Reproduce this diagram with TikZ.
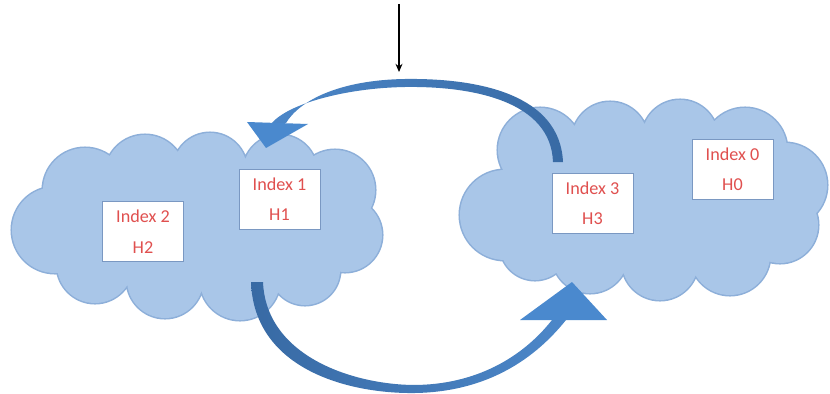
\documentclass[tikz,border=0pt]{standalone}
\usepackage{fontspec}
\setmainfont{Carlito}
\usetikzlibrary{arrows.meta}
\definecolor{cloudfill}{HTML}{A9C6E8}
\definecolor{cloudline}{HTML}{8DAFD9}
\definecolor{boxline}{HTML}{7A98C2}
\definecolor{idxred}{HTML}{E0504F}
\definecolor{banddark}{HTML}{386AA4}
\definecolor{bandlight}{HTML}{4C87C9}
\definecolor{headblue}{HTML}{4A89CE}
% puffs of the two clouds (one unit = one pixel of the drawing)
\newcommand\westpuffs{
  (200,230) ellipse[x radius=130, y radius=60]
  (55,230) circle[radius=43]
  (85,190) circle[radius=42]
  (145,175) circle[radius=40]
  (210,170) circle[radius=37]
  (280,172) circle[radius=37]
  (335,190) circle[radius=40]
  (345,235) circle[radius=37]
  (305,270) circle[radius=35]
  (240,280) circle[radius=40]
  (165,280) circle[radius=38]
  (95,265) circle[radius=38]}
\newcommand\eastpuffs{
  (645,200) ellipse[x radius=140, y radius=65]
  (505,215) circle[radius=45]
  (540,150) circle[radius=42]
  (610,140) circle[radius=38]
  (680,138) circle[radius=38]
  (745,150) circle[radius=42]
  (785,185) circle[radius=42]
  (780,225) circle[radius=38]
  (730,255) circle[radius=40]
  (660,262) circle[radius=38]
  (590,255) circle[radius=38]
  (535,245) circle[radius=35]}
\begin{document}
\begin{tikzpicture}[x=0.03cm,y=-0.03cm,
  idxbox/.style={draw=boxline, line width=0.6pt, fill=white,
    minimum width=2.43cm, minimum height=1.8cm, inner sep=0pt,
    align=center, text=idxred, font=\fontsize{15.5}{26}\selectfont},
  cloudedge/.style={draw=cloudline, line width=2.6pt},
  cloudbody/.style={fill=cloudfill}]
\fill[white] (0,0) rectangle (830,394);
\useasboundingbox (0,0) rectangle (830,394);

% clouds: stroke every puff, then fill them so only the outer rim stays
\path[cloudedge] \westpuffs;
\path[cloudbody] \westpuffs;
\path[cloudedge] \eastpuffs;
\path[cloudbody] \eastpuffs;

% index boxes
\node[idxbox] (i2) at (143,231.5) {Index 2\\H2};
\node[idxbox] (i1) at (279.5,199) {Index 1\\H1};
\node[idxbox] (i3) at (592.5,203) {Index 3\\H3};
\node[idxbox] (i0) at (732.5,169.5) {Index 0\\H0};

% upper curved arrow, from the east cloud back to the west cloud
\shade[left color=bandlight, right color=banddark]
  (563,162) .. controls (560,95) and (480,78) .. (405,79)
  .. controls (340,80) and (300,100) .. (286,123)
  -- (272,123)
  .. controls (288,104) and (345,88) .. (405,87)
  .. controls (475,86) and (551,102) .. (553,162) -- cycle;
\fill[headblue] (247,122) -- (308,124) -- (266,148) -- cycle;

% lower curved arrow, from the west cloud over to the east cloud
\shade[left color=banddark, right color=bandlight]
  (251,282) .. controls (254,370) and (350,394) .. (415,393)
  .. controls (480,392) and (530,365) .. (566,320)
  -- (552,320)
  .. controls (522,358) and (475,385) .. (413,385)
  .. controls (350,384) and (266,355) .. (263,282) -- cycle;
\fill[headblue] (520,320) -- (607,320) -- (572,282) -- cycle;

% incoming arrow at the top
\coordinate (feed) at (399,4);
\coordinate (feedend) at (399,72);
\draw[line width=1.1pt, -{Stealth[length=7pt, width=6pt]}] (feed) -- (feedend);
\end{tikzpicture}
\end{document}
